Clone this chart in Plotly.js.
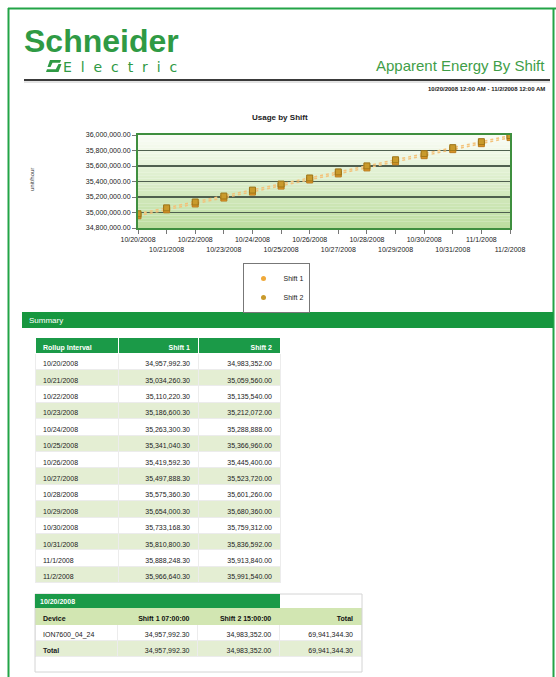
<!DOCTYPE html>
<html>
<head>
<meta charset="utf-8">
<script src="https://cdn.plot.ly/plotly-3.0.1.min.js"></script>
<style>
html,body{margin:0;padding:0;background:#fff;}
#chart{width:556px;height:677px;}
</style>
</head>
<body>
<div id="chart"></div>
<script>
// ---- data ----
const dates = ['2008-10-20','2008-10-21','2008-10-22','2008-10-23','2008-10-24','2008-10-25','2008-10-26',
               '2008-10-27','2008-10-28','2008-10-29','2008-10-30','2008-10-31','2008-11-01','2008-11-02'];
const dateLabels = ['10/20/2008','10/21/2008','10/22/2008','10/23/2008','10/24/2008','10/25/2008','10/26/2008',
                    '10/27/2008','10/28/2008','10/29/2008','10/30/2008','10/31/2008','11/1/2008','11/2/2008'];
const shift1 = [34957992.30,35034260.30,35110220.30,35186600.30,35263300.30,35341040.30,35419592.30,
                35497888.30,35575360.30,35654000.30,35733168.30,35810800.30,35888248.30,35966640.30];
const shift2 = [34983352.00,35059560.00,35135540.00,35212072.00,35288888.00,35366960.00,35445400.00,
                35523720.00,35601260.00,35680360.00,35759312.00,35836592.00,35913840.00,35991540.00];
const seriesNames = ['Shift 1','Shift 2'];
const summaryHeader = ['Rollup Interval','Shift 1','Shift 2'];
const detailDate = '10/20/2008';
const detailHeader = ['Device','Shift 1 07:00:00','Shift 2 15:00:00','Total'];
const detailRows = ['ION7600_04_24','Total'];
const yTickMin = 34800000, yTickMax = 36000000, yTickStep = 200000;

// ---- helpers (positions) ----
const W = 556, H = 677;
const px = x => x / W;
const py = y => 1 - y / H;
const fmt = v => v.toLocaleString('en-US',{minimumFractionDigits:2, maximumFractionDigits:2});
const nb = s => s.replace(/ /g, '\u00a0'); // keep table rows at fixed height
const FONT = 'Liberation Sans, Arial, sans-serif';

// staggered x tick labels
const tickText = dateLabels.map((d,i) => i % 2 === 0 ? d : '<br>' + d);

const traces = [
  {type:'scatter', mode:'lines+markers', name:seriesNames[0], x:dates, y:shift1, showlegend:false,
   line:{color:'#f3c27a', width:1.5, dash:'dot'},
   marker:{symbol:'square', size:6, color:'#e39a2a', line:{color:'#b87a1c', width:1}}},
  {type:'scatter', mode:'lines+markers', name:seriesNames[1], x:dates, y:shift2, showlegend:false,
   line:{color:'#f3c27a', width:1.5, dash:'dot'},
   marker:{symbol:'square', size:6, color:'#c99a2c', line:{color:'#9c7418', width:1}}},
  // legend entries (markers only)
  {type:'scatter', mode:'markers', name:seriesNames[0], x:[null], y:[null],
   marker:{symbol:'circle', size:5, color:'#f0a93a'}},
  {type:'scatter', mode:'markers', name:seriesNames[1], x:[null], y:[null],
   marker:{symbol:'circle', size:5, color:'#c99a2c'}}
];

// summary table
const sFill = dateLabels.map((d,i) => i % 2 === 0 ? '#ffffff' : '#e4eed3');
traces.push({
  type:'table',
  domain:{x:[px(35), px(280)], y:[py(592), py(337)]},
  columnwidth:[83,80,82],
  header:{values:summaryHeader.map(nb), align:['left','right','right'],
          fill:{color:'#1b9a48'}, font:{family:FONT, color:'#ffffff', size:7, weight:'bold'},
          height:16, line:{color:'#ffffff', width:1}},
  cells:{values:[dateLabels, shift1.map(fmt), shift2.map(fmt)],
         align:['left','right','right'],
         fill:{color:[sFill,sFill,sFill]},
         font:{family:FONT, size:7, color:'#222'},
         height:16.4, line:{color:'#ececec', width:1}}
});

// detail table
const d1 = shift1[0], d2 = shift2[0], dt = d1 + d2;
const dFill = ['#ffffff','#e4eed3'];
const dW = ['normal','bold'], dN = ['normal','normal'];
traces.push({
  type:'table',
  domain:{x:[px(35), px(362)], y:[py(664), py(608)]},
  columnwidth:[83,80,82,82],
  header:{values:detailHeader.map(nb), align:['left','right','right','right'],
          fill:{color:'#d2e6b2'}, font:{family:FONT, color:'#111', size:7, weight:'bold'},
          height:16, line:{color:'#d2e6b2', width:1}},
  cells:{values:[detailRows, [fmt(d1),fmt(d1)], [fmt(d2),fmt(d2)], [fmt(dt),fmt(dt)]],
         align:['left','right','right','right'],
         fill:{color:[dFill,dFill,dFill,dFill]},
         font:{family:FONT, color:'#222', size:7, weight:[dW,dN,dN,dN]},
         height:16, line:{color:'#ececec', width:1}}
});

// ---- shapes ----
const shapes = [];
// plot area gradient (white top -> light green bottom)
const N = 30;
for (let i = 0; i < N; i++) {
  const t = (i + 0.5) / N; // 0 bottom .. 1 top
  const c0 = [188,221,158], c1 = [250,253,246];
  const c = c0.map((v,k) => Math.round(v + (c1[k]-v) * t));
  shapes.push({type:'rect', xref:'x domain', yref:'y domain', x0:0, x1:1, y0:i/N, y1:(i+1)/N,
               fillcolor:`rgb(${c.join(',')})`, line:{width:0}, layer:'below'});
}
// page frame
shapes.push({type:'line', xref:'paper', yref:'paper', x0:px(8), x1:px(556), y0:py(8.5), y1:py(8.5), line:{color:'#22a447', width:2}});
shapes.push({type:'line', xref:'paper', yref:'paper', x0:px(8.5), x1:px(8.5), y0:py(8), y1:py(677), line:{color:'#22a447', width:2}});
shapes.push({type:'line', xref:'paper', yref:'paper', x0:px(553.5), x1:px(553.5), y0:py(8), y1:py(677), line:{color:'#22a447', width:2}});
// header rule
shapes.push({type:'line', xref:'paper', yref:'paper', x0:px(24), x1:px(550), y0:py(80), y1:py(80), line:{color:'#3a3a3a', width:2}});
shapes.push({type:'line', xref:'paper', yref:'paper', x0:px(24), x1:px(550), y0:py(82), y1:py(82), line:{color:'#c8c8c8', width:1}});
// logo icon
const P = pts => 'M ' + pts.map(p => px(p[0]) + ',' + py(p[1])).join(' L ') + ' Z';
shapes.push({type:'path', xref:'paper', yref:'paper', path:P([[50,60],[61,60],[60,62.8],[52.5,62.8],[50.5,67],[47.5,67]]), fillcolor:'#2f9a44', line:{width:0}});
shapes.push({type:'path', xref:'paper', yref:'paper', path:P([[58.5,64],[61.5,64],[58.5,72],[46,72],[47,69.2],[55.8,69.2]]), fillcolor:'#2f9a44', line:{width:0}});
// summary bar
shapes.push({type:'rect', xref:'paper', yref:'paper', x0:px(22), x1:px(553), y0:py(328), y1:py(312), fillcolor:'#17973f', line:{width:0}});
// detail box
shapes.push({type:'rect', xref:'paper', yref:'paper', x0:px(35), x1:px(362), y0:py(672), y1:py(594), fillcolor:'rgba(0,0,0,0)', line:{color:'#d4d4d4', width:1}});
shapes.push({type:'rect', xref:'paper', yref:'paper', x0:px(35), x1:px(280), y0:py(608), y1:py(594), fillcolor:'#1b9a48', line:{width:0}});

// ---- annotations ----
const ann = (x,y,text,opt) => Object.assign({xref:'paper', yref:'paper', x:px(x), y:py(y), text:text, showarrow:false}, opt);
const sp = '\u00a0 ';
const annotations = [
  ann(22, 41, '<b>Schneider</b>', {xanchor:'left', yanchor:'middle', font:{family:FONT, size:32, color:'#2f9a44'}}),
  ann(61, 67, ['E','l','e','c','t','r','i','c'].join(sp), {xanchor:'left', yanchor:'middle', font:{family:'DejaVu Sans, sans-serif', size:14, color:'#2f9a44'}}),
  ann(547, 65, 'Apparent Energy By Shift', {xanchor:'right', yanchor:'middle', font:{family:FONT, size:15, color:'#3f9e48'}}),
  ann(547, 89, '<b>10/20/2008 12:00 AM - 11/2/2008 12:00 AM</b>', {xanchor:'right', yanchor:'middle', font:{family:FONT, size:6, color:'#222'}}),
  ann(280, 118, '<b>Usage by Shift</b>', {xanchor:'center', yanchor:'middle', font:{family:FONT, size:8, color:'#222'}}),
  ann(32, 180, 'unit/hour', {xanchor:'center', yanchor:'middle', textangle:-90, font:{family:FONT, size:6, color:'#333'}}),
  ann(27, 320, 'Summary', {xanchor:'left', yanchor:'middle', font:{family:FONT, size:8, color:'#ffffff'}}),
  ann(38, 601, '<b>' + detailDate + '</b>', {xanchor:'left', yanchor:'middle', font:{family:FONT, size:7, color:'#ffffff'}})
];

const yTicks = [];
for (let v = yTickMin; v <= yTickMax + 1; v += yTickStep) yTicks.push(v);

const layout = {
  width:W, height:H,
  margin:{l:0, r:0, t:0, b:0},
  paper_bgcolor:'#ffffff', plot_bgcolor:'rgba(0,0,0,0)',
  font:{family:FONT, size:7, color:'#222'},
  showlegend:true,
  legend:{x:px(276), y:py(263), xanchor:'center', yanchor:'top', bgcolor:'#ffffff', bordercolor:'#777', borderwidth:1,
          font:{size:7, color:'#222'}, itemwidth:30, tracegroupgap:0},
  xaxis:{domain:[px(138), px(510)], type:'date', range:[dates[0], dates[dates.length-1]],
         tickmode:'array', tickvals:dates, ticktext:tickText, tickangle:0,
         tickfont:{size:7, color:'#222'}, ticks:'outside', ticklen:4, tickcolor:'#777',
         showgrid:false, zeroline:false, showline:true, linecolor:'#3f8f3f', linewidth:2, mirror:true, fixedrange:true},
  yaxis:{domain:[py(228), py(135)], range:[yTickMin, yTickMax], tickmode:'array', tickvals:yTicks,
         tickformat:',.2f', tickfont:{size:7, color:'#222'}, ticks:'outside', ticklen:4, tickcolor:'#777',
         showgrid:true, gridcolor:'#4f5f4f', gridwidth:1.5, zeroline:false,
         showline:true, linecolor:'#3f8f3f', linewidth:2, mirror:true, fixedrange:true},
  shapes:shapes,
  annotations:annotations
};

Plotly.newPlot('chart', traces, layout, {staticPlot:true, displayModeBar:false});
</script>
</body>
</html>
